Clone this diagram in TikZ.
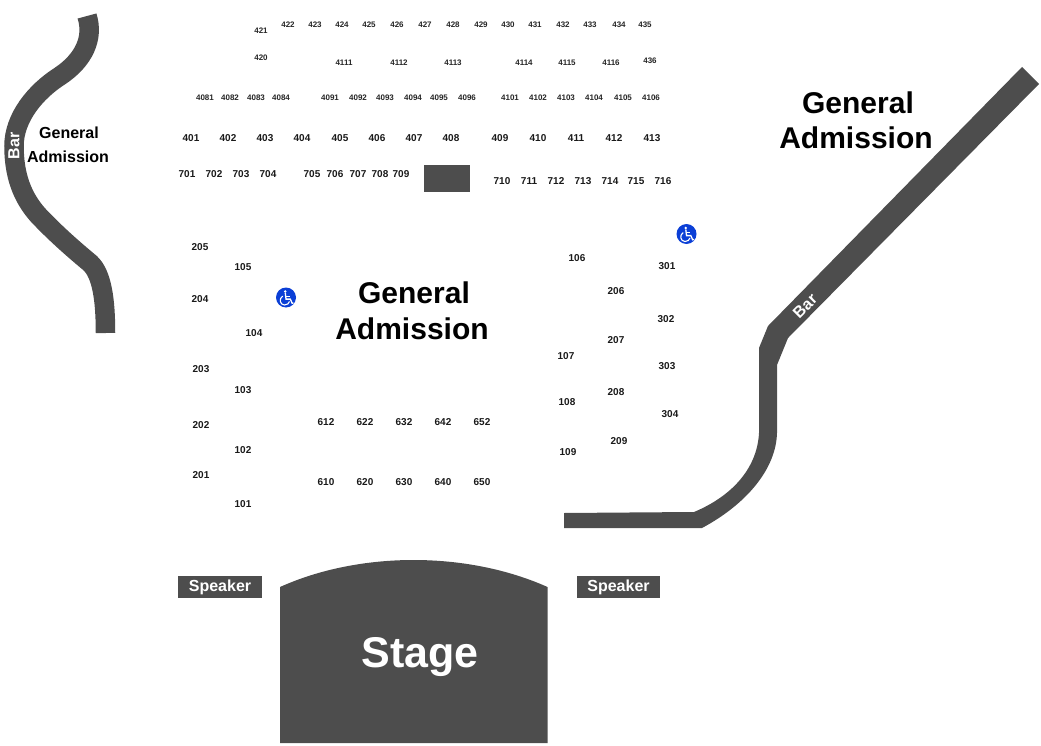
\documentclass[tikz,border=0pt]{standalone}
\usepackage{fontspec}
\setmainfont{Liberation Sans}
\usetikzlibrary{positioning,calc}
\definecolor{venuegrey}{HTML}{4d4d4d}
\definecolor{accessblue}{HTML}{0b3fd6}
\tikzset{
  seatsmall/.style={font=\fontsize{8}{9}\selectfont\bfseries, text=black!85, inner sep=0pt, yshift=-0.4pt},
  seatlabel/.style={font=\fontsize{10}{12}\selectfont\bfseries, text=black!90, inner sep=0pt, yshift=-0.4pt},
  zonesmall/.style={font=\fontsize{16}{18}\selectfont\bfseries, inner sep=0pt, yshift=-0.6pt},
  zonelarge/.style={font=\fontsize{30}{32}\selectfont\bfseries, inner sep=0pt, yshift=-0.6pt},
  barlabel/.style={font=\fontsize{16}{18}\selectfont\bfseries, text=white, inner sep=0pt},
  speakerbox/.style={fill=venuegrey, text=white, font=\fontsize{16}{18}\selectfont\bfseries,
    minimum width=83.5pt, minimum height=22pt, inner sep=0pt},
  accessdot/.style={circle, fill=accessblue, minimum size=20pt, inner sep=0pt},
  accessicon/.pic={
    \fill[white] (-0.7,-6) circle (1.4);
    \draw[white, line width=1.3pt] (-0.7,-4.5) -- (0,1.6) -- (4.3,1.6) -- (6.2,5.8) -- (7.4,5.4);
    \draw[white, line width=1.1pt] (-0.4,-1.4) -- (3.6,-1.4);
    \draw[white, line width=1.1pt] (-3.3,-1.4) .. controls (-7.5,1) and (-6,7.5) .. (-1.5,7.5) .. controls (1,7.5) and (3,6) .. (3.5,4);
  }
}
\begin{document}
\begin{tikzpicture}[x=1pt,y=-1pt]
\useasboundingbox (0,0) rectangle (1041,746);
% Left bar
\draw[venuegrey, line width=19.5pt] (87,16) .. controls (94,38) and (84,60) .. (60,76)
  .. controls (35,92) and (14,118) .. (14,146)
  .. controls (14,175) and (22,197) .. (38,215)
  .. controls (55,233) and (72,248) .. (90,263)
  .. controls (102,274) and (105.5,300) .. (105.5,333);
% Right bar
\fill[venuegrey] (1022,67) -- (1039,84) -- (788,338) -- (777,365) -- (777,433)
  .. controls (776,470) and (745,505) .. (702,528) -- (564,528) -- (564,513) -- (694,512)
  .. controls (730,497) and (757,470) .. (759,433) -- (759,348) -- (768,326) -- cycle;
% Stage and block
\fill[venuegrey] (280,587) .. controls (360,551) and (467,551) .. (547.5,587) -- (547.5,743) -- (280,743) -- cycle;
\fill[venuegrey] (424,165) rectangle (470,192);
\node[font=\fontsize{43}{45}\selectfont\bfseries, text=white, inner sep=0pt] (stage) at (420,657) {Stage};
\node[speakerbox] (speakerL) at (220,587) {Speaker};
\node[speakerbox] (speakerR) at (618.5,587) {Speaker};
\node[barlabel, rotate=90] (barL) at (14,146) {Bar};
\node[barlabel, rotate=45] (barR) at (805,306) {Bar};
% General admission zones
\foreach \n/\x/\y/\lab in {
  zoneLa/69/132/General, zoneLb/68/156/Admission
} {
  \node[zonesmall] (\n) at (\x,\y) {\lab};
}
\foreach \n/\x/\y/\lab in {
  zoneMa/414/292/General, zoneMb/412/328/Admission,
  zoneRa/858/102/General, zoneRb/856/137/Admission
} {
  \node[zonelarge] (\n) at (\x,\y) {\lab};
}
% Upper rows
\foreach \x/\y/\lab in {
  261/30/421, 288/24/422, 315/24/423, 342/24/424, 369/24/425, 397/24/426, 425/24/427, 453/24/428,
  481/24/429, 508/24/430, 535/24/431, 563/24/432, 590/24/433, 619/24/434, 645/24/435,
  261/57/420, 344/62/4111, 399/62/4112, 453/62/4113, 524/62/4114, 567/62/4115, 611/62/4116, 650/60/436,
  205/97/4081, 230/97/4082, 256/97/4083, 281/97/4084,
  330/97/4091, 358/97/4092, 385/97/4093, 413/97/4094, 439/97/4095, 467/97/4096,
  510/97/4101, 538/97/4102, 566/97/4103, 594/97/4104, 623/97/4105, 651/97/4106
} {
  \node[seatsmall] (s\lab) at (\x,\y) {\lab};
}
% Main seat labels
\foreach \x/\y/\lab in {
  191/138/401, 228/138/402, 265/138/403, 302/138/404, 340/138/405, 377/138/406, 414/138/407, 451/138/408,
  500/138/409, 538/138/410, 576/138/411, 614/138/412, 652/138/413,
  187/174/701, 214/174/702, 241/174/703, 268/174/704, 312/174/705, 335/174/706, 358/174/707, 380/174/708, 401/174/709,
  502/181/710, 529/181/711, 556/181/712, 583/181/713, 610/181/714, 636/181/715, 663/181/716,
  200/247/205, 243/267/105, 200/299/204, 254/333/104, 201/369/203, 243/390/103, 201/425/202, 243/450/102, 201/475/201, 243/504/101,
  326/422/612, 365/422/622, 404/422/632, 443/422/642, 482/422/652,
  326/482/610, 365/482/620, 404/482/630, 443/482/640, 482/482/650,
  577/258/106, 616/291/206, 667/266/301, 666/319/302, 616/340/207, 566/356/107, 667/366/303,
  616/392/208, 567/402/108, 670/414/304, 619/441/209, 568/452/109
} {
  \node[seatlabel] (s\lab) at (\x,\y) {\lab};
}
% Access symbols
\node[accessdot] (accessL) at (286,297.5) {};
\pic at (accessL) {accessicon};
\node[accessdot] (accessR) at (686.5,234) {};
\pic at (accessR) {accessicon};
\end{tikzpicture}
\end{document}
